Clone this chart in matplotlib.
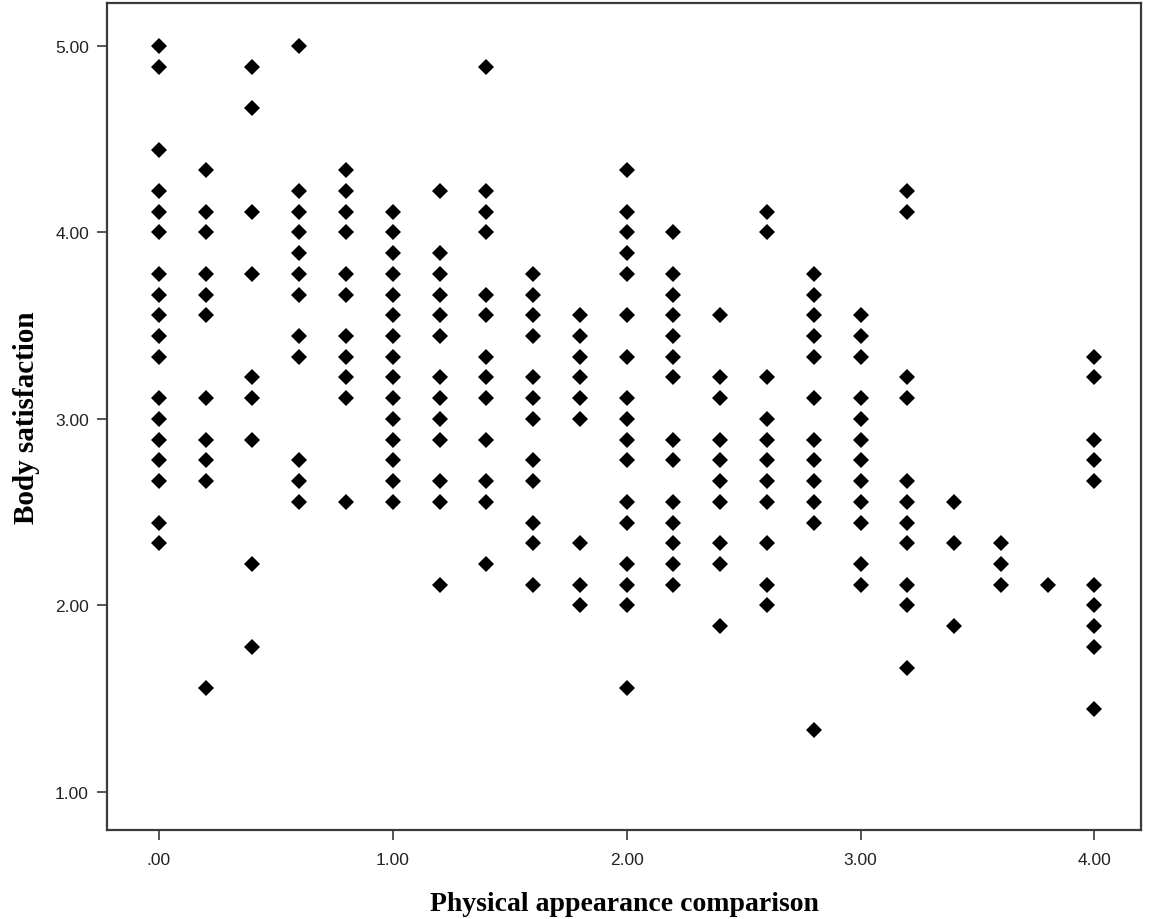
import matplotlib.pyplot as plt
import numpy as np

# x groups (physical appearance comparison) and the body satisfaction values in each
x_levels = [0.0, 0.2, 0.4, 0.6, 0.8, 1.0, 1.2, 1.4, 1.6, 1.8, 2.0,
            2.2, 2.4, 2.6, 2.8, 3.0, 3.2, 3.4, 3.6, 3.8, 4.0]

# body satisfaction scores are in ninths: value = k / 9
col_00 = [45, 44, 40, 38, 37, 36, 34, 33, 32, 31, 30, 28, 27, 26, 25, 24, 22, 21]
col_02 = [39, 37, 36, 34, 33, 32, 28, 26, 25, 24, 14]
col_04 = [44, 42, 37, 34, 29, 28, 26, 20, 16]
col_06 = [45, 38, 37, 36, 35, 34, 33, 31, 30, 25, 24, 23]
col_08 = [39, 38, 37, 36, 34, 33, 31, 30, 29, 28, 23]
col_10 = [37, 36, 35, 34, 33, 32, 31, 30, 29, 28, 27, 26, 25, 24, 23]
col_12 = [38, 35, 34, 33, 32, 31, 29, 28, 27, 26, 24, 23, 19]
col_14 = [44, 38, 37, 36, 33, 32, 30, 29, 28, 26, 24, 23, 20]
col_16 = [34, 33, 32, 31, 29, 28, 27, 25, 24, 22, 21, 19]
col_18 = [32, 31, 30, 29, 28, 27, 21, 19, 18]
col_20 = [39, 37, 36, 35, 34, 32, 30, 28, 27, 26, 25, 23, 22, 20, 19, 18, 14]
col_22 = [36, 34, 33, 32, 31, 30, 29, 26, 25, 23, 22, 21, 20, 19]
col_24 = [32, 29, 28, 26, 25, 24, 23, 21, 20, 17]
col_26 = [37, 36, 29, 27, 26, 25, 24, 23, 21, 19, 18]
col_28 = [34, 33, 32, 31, 30, 28, 26, 25, 24, 23, 22, 12]
col_30 = [32, 31, 30, 28, 27, 26, 25, 24, 23, 22, 20, 19]
col_32 = [38, 37, 29, 28, 24, 23, 22, 21, 19, 18, 15]
col_34 = [23, 21, 17]
col_36 = [21, 20, 19]
col_38 = [19]
col_40 = [30, 29, 26, 25, 24, 19, 18, 17, 16, 13]

columns = [col_00, col_02, col_04, col_06, col_08, col_10, col_12, col_14,
           col_16, col_18, col_20, col_22, col_24, col_26, col_28, col_30,
           col_32, col_34, col_36, col_38, col_40]

x_ticks = [0, 1, 2, 3, 4]
x_ticklabels = ['.00', '1.00', '2.00', '3.00', '4.00']
y_ticks = [1, 2, 3, 4, 5]
y_ticklabels = ['1.00', '2.00', '3.00', '4.00', '5.00']

xs = []
ys = []
for xv, col in zip(x_levels, columns):
    for k in col:
        xs.append(xv)
        ys.append(k / 9.0)

fig = plt.figure(figsize=(11.49, 9.20), dpi=100)
ax = fig.add_axes([107 / 1149, 1 - 831 / 920, (1141 - 107) / 1149, (831 - 4) / 920])

ax.plot(xs, ys, linestyle='none', marker='D', markersize=8.2,
        color='black', markeredgewidth=0)

ax.set_xlim(-0.222, 4.199)
ax.set_ylim(0.796, 5.23)

ax.set_xticks(x_ticks)
ax.set_xticklabels(x_ticklabels)
ax.set_yticks(y_ticks)
ax.set_yticklabels(y_ticklabels)

for side in ['left', 'right', 'top', 'bottom']:
    ax.spines[side].set_color('#3a3a3a')
    ax.spines[side].set_linewidth(1.6)

ax.tick_params(axis='both', direction='out', length=7, width=1.2,
               color='#3a3a3a', labelsize=12.5, labelcolor='#222222')
ax.tick_params(axis='x', pad=9)
ax.tick_params(axis='y', pad=6)
ax.tick_params(top=False, right=False)
for lab in ax.get_xticklabels() + ax.get_yticklabels():
    lab.set_family('Liberation Sans')

ax.set_xlabel('Physical appearance comparison', labelpad=17,
              family='Liberation Serif', weight='bold', size=20)
ax.set_ylabel('Body satisfaction', labelpad=11,
              family='Liberation Serif', weight='bold', size=21)

fig.savefig('out.png', dpi=100, facecolor='white')
